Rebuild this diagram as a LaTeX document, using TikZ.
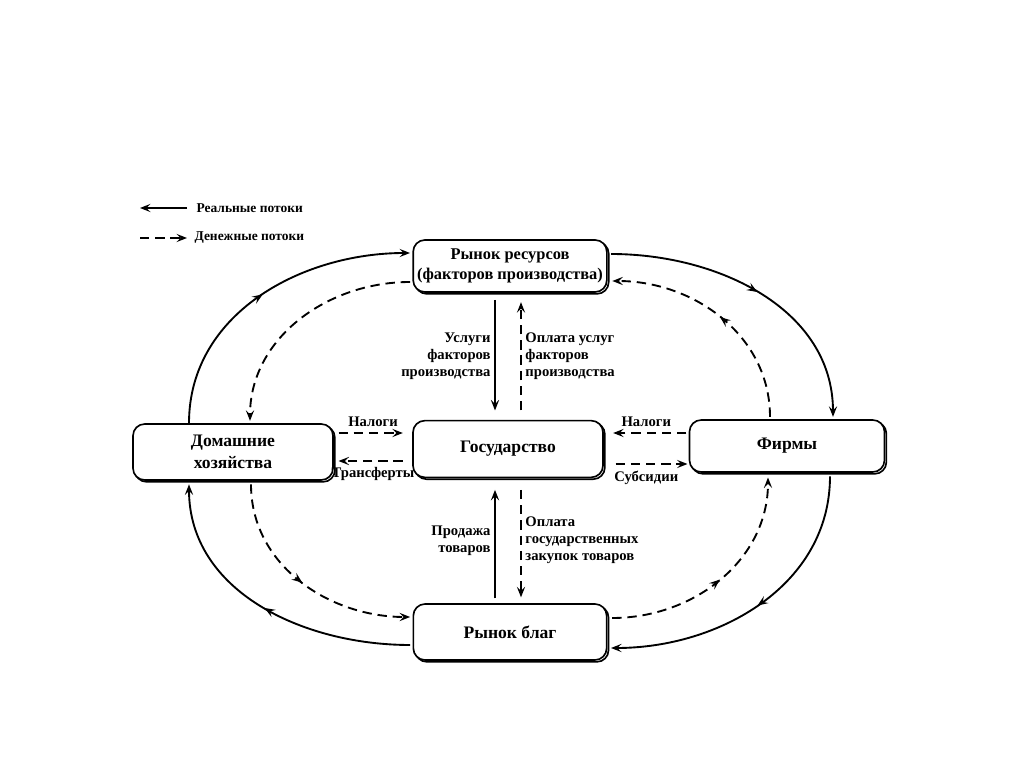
\documentclass[tikz,border=0pt]{standalone}
\usepackage{fontspec}
\setmainfont{Liberation Serif}
\usetikzlibrary{arrows.meta, shadows, decorations.markings}

\tikzset{
  box/.style={draw, line width=1.4pt, rounded corners=10pt, fill=white,
    align=center, font=\bfseries\fontsize{15}{19}\selectfont,
    copy shadow={shadow xshift=1.6pt, shadow yshift=-1.6pt}},
  tip/.style={-{Stealth[length=9pt, width=7pt, inset=3.5pt]}},
  realflow/.style={line width=1.6pt, tip},
  moneyflow/.style={line width=1.6pt, dash pattern=on 8pt off 5pt, tip},
  midarrow/.style={postaction={decorate, decoration={markings,
    mark=at position 0.5 with {\arrow{Stealth[length=9pt, width=7pt, inset=3.5pt]}}}}},
  lbl/.style={font=\bfseries\fontsize{12.5}{14.5}\selectfont, inner sep=3pt},
  legend/.style={font=\bfseries\fontsize{11.5}{13}\selectfont, inner sep=2pt}
}

\begin{document}
\begin{tikzpicture}[x=0.03cm, y=-0.03cm]
  \useasboundingbox (0,0) rectangle (1024,767);

  % legend
  \coordinate (lgA) at (187,208);
  \coordinate (lgB) at (140,208);
  \coordinate (lgC) at (140,238);
  \coordinate (lgD) at (187,238);
  \draw[realflow] (lgA) -- (lgB);
  \draw[moneyflow] (lgC) -- (lgD);
  \node[legend, anchor=west] (lgreal) at (194,208) {Реальные потоки};
  \node[legend, anchor=west] (lgmoney) at (192,238) {Денежные потоки};

  % markets, sectors
  \node[box, minimum width=5.7cm, minimum height=1.56cm,
    font=\bfseries\fontsize{14}{17}\selectfont] (res) at (510,266)
    {Рынок ресурсов\\(факторов производства)};
  \node[box, minimum width=6cm, minimum height=1.68cm] (hh) at (233,452)
    {Домашние\\хозяйства};
  \node[box, minimum width=5.7cm, minimum height=1.7cm] (gov) at (508,449)
    {Государство};
  \node[box, minimum width=5.85cm, minimum height=1.56cm] (firm) at (787,446)
    {Фирмы};
  \node[box, minimum width=5.8cm, minimum height=1.68cm] (goods) at (510,632)
    {Рынок благ};

  % real flows (outer loop)
  \draw[realflow, midarrow] ([xshift=-1.32cm]hh.north)
    to[out=90, in=180] ([yshift=0.39cm, xshift=-2pt]res.west);
  \draw[realflow, midarrow] ([yshift=0.36cm, xshift=3pt]res.east)
    to[out=0, in=90] ([xshift=1.38cm, yshift=2pt]firm.north);
  \draw[realflow, midarrow] ([xshift=1.29cm, yshift=-3pt]firm.south)
    to[out=-90, in=0] ([yshift=-0.48cm, xshift=3pt]goods.east);
  \draw[realflow, midarrow] ([yshift=-0.39cm, xshift=-2pt]goods.west)
    to[out=180, in=-90] ([xshift=-1.32cm, yshift=-3pt]hh.south);

  % money flows (inner loop)
  \draw[moneyflow] ([yshift=-0.48cm, xshift=-2pt]res.west)
    to[out=180, in=90] ([xshift=0.51cm, yshift=2pt]hh.north);
  \draw[moneyflow, midarrow] ([xshift=-0.51cm, yshift=2pt]firm.north)
    to[out=90, in=0] ([yshift=-0.45cm, xshift=4pt]res.east);
  \draw[moneyflow, midarrow] ([xshift=0.54cm, yshift=-3pt]hh.south)
    to[out=-90, in=180] ([yshift=0.45cm, xshift=-2pt]goods.west);
  \draw[moneyflow, midarrow] ([yshift=0.42cm, xshift=4pt]goods.east)
    to[out=0, in=-90] ([xshift=-0.57cm, yshift=-4pt]firm.south);

  % government and resource market
  \draw[realflow, shorten <=6pt, shorten >=8pt] ([xshift=-0.45cm]res.south)
    -- ([xshift=-0.45cm]res.south |- gov.north)
    node[lbl, midway, left, align=right] (lblsvc) {Услуги\\факторов\\производства};
  \draw[moneyflow, shorten <=8pt, shorten >=8pt] ([xshift=0.39cm]gov.north)
    -- ([xshift=0.39cm]gov.north |- res.south)
    node[lbl, midway, right, align=left] (lblpay) {Оплата услуг\\факторов\\производства};

  % government and goods market
  \draw[realflow, shorten <=4pt, shorten >=10pt] ([xshift=-0.45cm]goods.north)
    -- ([xshift=-0.45cm]goods.north |- gov.south)
    node[lbl, midway, left, align=right] (lblsale) {Продажа\\товаров};
  \draw[moneyflow, shorten <=10pt, shorten >=5pt] ([xshift=0.39cm]gov.south)
    -- ([xshift=0.39cm]gov.south |- goods.north)
    node[lbl, midway, right, align=left] (lblbuy) {Оплата\\государственных\\закупок товаров};

  % taxes, transfers, subsidies
  \draw[moneyflow, shorten <=4pt, shorten >=8pt] ([yshift=0.57cm]hh.east)
    -- ([yshift=0.57cm]hh.east -| gov.west)
    node[lbl, midway, above=2pt] (lbltaxhh) {Налоги};
  \draw[moneyflow, shorten <=8pt, shorten >=4pt] ([yshift=-0.36cm]gov.west)
    -- ([yshift=-0.36cm]gov.west -| hh.east)
    node[lbl, midway, below=2pt] (lbltrans) {Трансферты};
  \draw[moneyflow, shorten <=2pt, shorten >=8pt] ([yshift=0.39cm]firm.west)
    -- ([yshift=0.39cm]firm.west -| gov.east)
    node[lbl, midway, above=2pt] (lbltaxf) {Налоги};
  \draw[moneyflow, shorten <=10pt, shorten >=1pt] ([yshift=-0.45cm]gov.east)
    -- ([yshift=-0.45cm]gov.east -| firm.west)
    node[lbl, midway, below=2pt] (lblsub) {Субсидии};
\end{tikzpicture}
\end{document}
